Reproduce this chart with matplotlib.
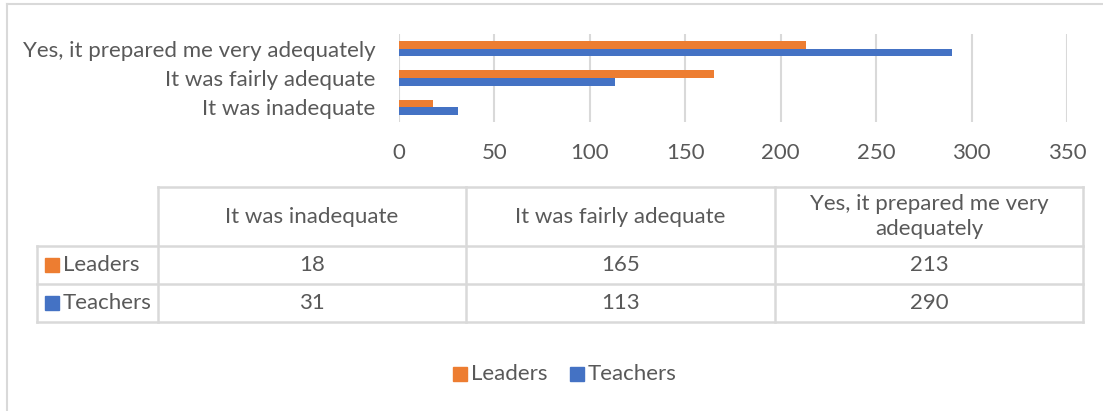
import matplotlib
matplotlib.use("Agg")
import matplotlib.pyplot as plt
from matplotlib.patches import Rectangle

categories = ["It was inadequate", "It was fairly adequate", "Yes, it prepared me very adequately"]
table_headers = ["It was inadequate", "It was fairly adequate", "Yes, it prepared me very\nadequately"]
series_names = ["Leaders", "Teachers"]
leaders = [18, 165, 213]
teachers = [31, 113, 290]
xticks = [0, 50, 100, 150, 200, 250, 300, 350]

ORANGE = "#ED7D31"
BLUE = "#4472C4"
TXT = "#595959"
GRID = "#D9D9D9"
FONT = "Lato"
FS = 16

W, H = 1103, 411
fig = plt.figure(figsize=(W / 100, H / 100), dpi=100)
plt.rcParams["font.family"] = [FONT, "DejaVu Sans"]

# overlay axes in pixel coordinates
ov = fig.add_axes([0, 0, 1, 1])
ov.set_xlim(0, W)
ov.set_ylim(H, 0)
ov.axis("off")

# chart frame
ov.plot([7, 7], [4, H], color=GRID, lw=1.5)
ov.plot([7, W], [4, 4], color=GRID, lw=1.5)

# main bar axes
x0, x1, y0, y1 = 399, 1067, 34, 122
ax = fig.add_axes([x0 / W, 1 - y1 / H, (x1 - x0) / W, (y1 - y0) / H])
pos = list(range(len(categories)))
h = 0.26
ax.barh([p + h / 2 for p in pos], leaders, height=h, color=ORANGE, zorder=3)
ax.barh([p - h / 2 for p in pos], teachers, height=h, color=BLUE, zorder=3)
ax.set_xlim(0, 350)
ax.set_ylim(-0.5, 2.5)
ax.set_xticks(xticks)
ax.set_xticklabels([str(t) for t in xticks])
ax.set_yticks(pos)
ax.set_yticklabels(categories)
ax.tick_params(axis="both", length=0, labelsize=FS, colors=TXT)
ax.tick_params(axis="x", pad=15)
ax.tick_params(axis="y", pad=17)
ax.grid(axis="x", color=GRID, lw=1.5, zorder=0)
for s in ax.spines.values():
    s.set_visible(False)
ax.set_facecolor("none")

# data table
cols = [158, 466, 775, 1083]
left = 37
rows = [187, 246, 284, 322]
lw = 1.8
ov.plot([cols[0], cols[-1]], [rows[0], rows[0]], color=GRID, lw=lw)
for r in rows[1:]:
    ov.plot([left, cols[-1]], [r, r], color=GRID, lw=lw)
for c in cols:
    ov.plot([c, c], [rows[0], rows[-1]], color=GRID, lw=lw)
ov.plot([left, left], [rows[1], rows[-1]], color=GRID, lw=lw)

for i, lab in enumerate(table_headers):
    cx = (cols[i] + cols[i + 1]) / 2
    ov.text(cx, (rows[0] + rows[1]) / 2, lab, ha="center", va="center",
            fontsize=FS, color=TXT, linespacing=1.3)

series_vals = [leaders, teachers]
series_cols = [ORANGE, BLUE]
for j, name in enumerate(series_names):
    cy = (rows[j + 1] + rows[j + 2]) / 2
    ov.add_patch(Rectangle((45, cy - 7), 14, 14, color=series_cols[j]))
    ov.text(63, cy, name, ha="left", va="center", fontsize=FS, color=TXT)
    for i, v in enumerate(series_vals[j]):
        cx = (cols[i] + cols[i + 1]) / 2
        ov.text(cx, cy, str(v), ha="center", va="center", fontsize=FS, color=TXT)

# legend
ly = 374
ov.add_patch(Rectangle((453, ly - 7), 14, 14, color=ORANGE))
ov.text(471, ly, series_names[0], ha="left", va="center", fontsize=FS, color=TXT)
ov.add_patch(Rectangle((570, ly - 7), 14, 14, color=BLUE))
ov.text(588, ly, series_names[1], ha="left", va="center", fontsize=FS, color=TXT)

fig.savefig("out.png", dpi=100)
